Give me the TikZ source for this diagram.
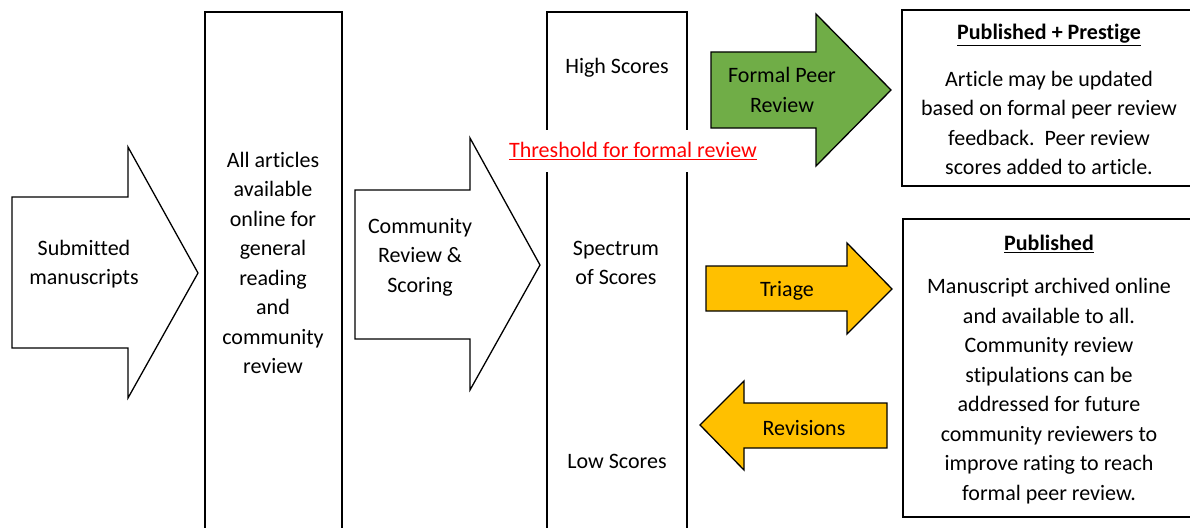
\documentclass[tikz,border=0pt]{standalone}
\usepackage{fontspec}
\setmainfont{Carlito}[RawFeature={-liga,-clig,-dlig,-calt}]
\definecolor{peergreen}{HTML}{70AD47}
\definecolor{triagegold}{HTML}{FFC000}
\definecolor{threshred}{HTML}{FF0000}
\begin{document}
\begin{tikzpicture}[x=1pt, y=-1pt,
    txt/.style={align=center, inner sep=0pt, font=\fontsize{22}{29.5}\selectfont},
    block/.style={draw, line width=1.6pt},
    bigarrow/.style={draw, line width=1.3pt, line join=miter, fill=white}]

  \useasboundingbox (0,0) rectangle (1190,527);

  % columns
  \draw[block] (205,560) -- (205,12) -- (342,12) -- (342,560);
  \draw[block] (547,560) -- (547,12) -- (687,12) -- (687,560);

  % block arrows
  \draw[bigarrow] (12,197) -- (128,197) -- (128,147) -- (198,273)
        -- (128,398) -- (128,348) -- (12,348) -- cycle;
  \draw[bigarrow] (355,190) -- (470,190) -- (470,138) -- (540,265)
        -- (470,390) -- (470,339) -- (355,339) -- cycle;
  \draw[bigarrow, fill=peergreen] (711,52) -- (816,52) -- (816,14) -- (891,90)
        -- (816,166) -- (816,128) -- (711,128) -- cycle;
  \draw[bigarrow, fill=triagegold] (706,266) -- (847,266) -- (847,243) -- (892,289)
        -- (847,334) -- (847,311) -- (706,311) -- cycle;
  \draw[bigarrow, fill=triagegold] (700,425) -- (744,381) -- (744,403) -- (887,403)
        -- (887,448) -- (744,448) -- (744,470) -- cycle;

  % outcome boxes
  \draw[block] (1200,10) -- (902,10) -- (902,186) -- (1200,186);
  \draw[block] (1200,219) -- (903,219) -- (903,517) -- (1200,517);

  % texts
  \node[txt] (subm) at (84,264) {Submitted\\manuscripts};
  \node[txt] (avail) at (273,263) {All articles\\available\\online for\\general\\reading\\and\\community\\review};
  \node[txt] (comm) at (420,257) {Community\\Review \&\\Scoring};
  \node[txt] (high) at (617,68) {High Scores};
  \node[txt] (spec) at (616,263) {Spectrum\\of Scores};
  \node[txt] (low) at (617,461) {Low Scores};
  \node[txt, fill=white, text=threshred, minimum height=42pt, inner xsep=4pt]
        (thresh) at (633,151) {\underline{Threshold for formal review}};
  \node[txt] (peer) at (782,90) {Formal Peer\\Review};
  \node[txt] (triage) at (787,291) {Triage};
  \node[txt] (revis) at (804,428) {Revisions};
  \node[txt, font=\fontsize{22}{29.5}\selectfont\bfseries] (prestT) at (1049,35) {\underline{Published + Prestige}};
  \node[txt] (prestB) at (1049,123) {Article may be updated\\based on formal peer review\\feedback.\ \ Peer review\\scores added to article.};
  \node[txt, font=\fontsize{22}{29.5}\selectfont\bfseries] (publT) at (1049,244) {\underline{Published}};
  \node[txt] (publB) at (1049,391) {Manuscript archived online\\and available to all.\\Community review\\stipulations can be\\addressed for future\\community reviewers to\\improve rating to reach\\formal peer review.};
\end{tikzpicture}
\end{document}
